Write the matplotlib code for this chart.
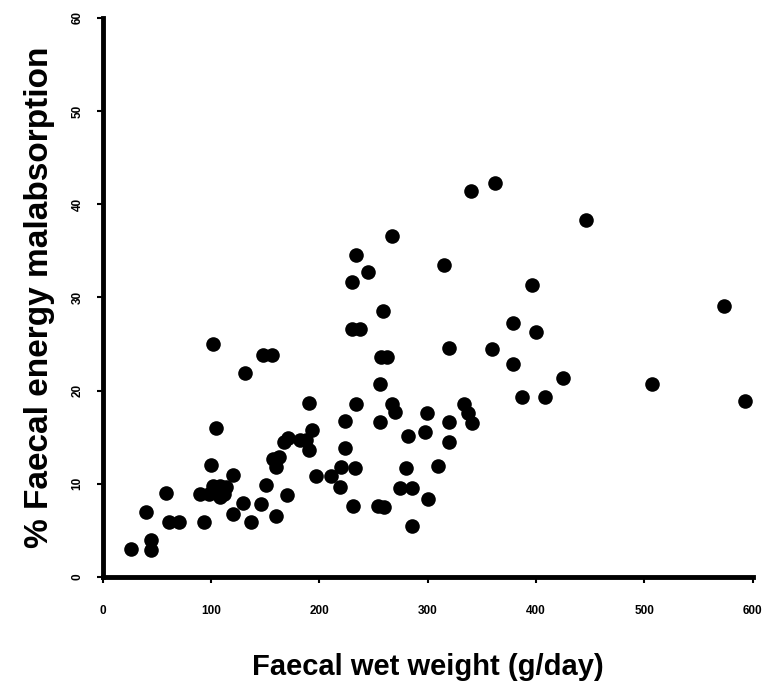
import matplotlib
matplotlib.use('Agg')
import matplotlib.pyplot as plt

# faecal wet weight (g/day) vs % faecal energy malabsorption
wet_weight = [26, 40, 44, 44, 58, 61, 70, 93, 90, 98, 102, 108, 108, 112, 114,
              100, 104, 102, 120, 120, 129, 131, 137, 146, 148, 156, 151, 157,
              160, 163, 160, 167, 171, 170, 182, 188, 190, 190, 193, 197, 211,
              219, 220, 224, 224, 230, 231, 233, 230, 234, 237, 234, 245, 254,
              256, 256, 257, 259, 262, 260, 267, 267, 270, 274, 282, 280, 285,
              285, 297, 299, 300, 309, 315, 320, 320, 320, 333, 337, 341, 340,
              359, 362, 379, 379, 387, 396, 400, 408, 425, 446, 507, 574, 593]
malabsorption = [3.0, 7.0, 4.0, 2.9, 9.0, 5.9, 5.9, 5.9, 8.9, 8.9, 9.8, 9.8,
                 8.6, 8.9, 9.7, 12.0, 16.0, 25.0, 10.9, 6.8, 7.9, 21.9, 5.9,
                 7.8, 23.8, 23.8, 9.9, 12.7, 6.5, 12.9, 11.8, 14.5, 14.9, 8.8,
                 14.7, 14.7, 18.7, 13.6, 15.8, 10.8, 10.8, 9.7, 11.8, 16.7,
                 13.8, 31.7, 7.6, 11.7, 26.6, 34.6, 26.6, 18.6, 32.7, 7.6, 20.7,
                 16.6, 23.6, 28.5, 23.6, 7.5, 18.6, 36.6, 17.7, 9.5, 15.1, 11.7,
                 9.5, 5.5, 15.6, 17.6, 8.4, 11.9, 33.5, 16.6, 14.5, 24.6, 18.6,
                 17.6, 16.5, 41.4, 24.5, 42.3, 22.9, 27.3, 19.3, 31.3, 26.3,
                 19.3, 21.3, 38.3, 20.7, 29.1, 18.9]

plt.rcParams['font.family'] = ['Liberation Sans', 'DejaVu Sans']

fig = plt.figure(figsize=(7.68, 6.86), dpi=100)
ax = fig.add_axes([0.134, 0.159, 0.846, 0.815])

ax.plot(wet_weight, malabsorption, 'o', color='black', markersize=10.5,
        markeredgewidth=0, clip_on=False)

ax.set_xlim(0, 600)
ax.set_ylim(0, 60)
ax.set_xticks(range(0, 601, 100))
ax.set_yticks(range(0, 61, 10))

ax.spines['top'].set_visible(False)
ax.spines['right'].set_visible(False)
ax.spines['left'].set_linewidth(3.5)
ax.spines['bottom'].set_linewidth(3.5)
ax.tick_params(axis='x', direction='out', length=4, width=1.5,
               labelsize=8.5, pad=16)
ax.tick_params(axis='y', direction='out', length=4, width=1.5,
               labelsize=8.5, pad=10)
for lbl in ax.get_xticklabels() + ax.get_yticklabels():
    lbl.set_fontweight('bold')
for lbl in ax.get_yticklabels():
    lbl.set_rotation(90)
    lbl.set_va('center')

ax.set_xlabel('Faecal wet weight (g/day)', fontsize=21, fontweight='bold',
              labelpad=26)
ax.set_ylabel('% Faecal energy malabsorption', fontsize=24, fontweight='bold',
              labelpad=12)

plt.savefig('out.png', dpi=100)
